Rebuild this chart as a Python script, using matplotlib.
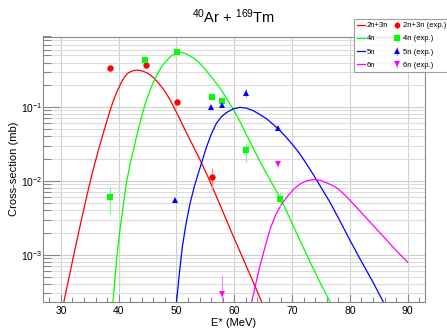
import numpy as np
import matplotlib
matplotlib.use('Agg')
import matplotlib.pyplot as plt
from matplotlib.ticker import MultipleLocator, LogLocator, NullFormatter

plt.rcParams['font.family'] = ['Liberation Sans', 'DejaVu Sans']
plt.rcParams['mathtext.fontset'] = 'custom'
plt.rcParams['mathtext.rm'] = 'Liberation Sans'
plt.rcParams['mathtext.default'] = 'regular'

# calculated curves, (E*, log10 sigma)
red_x = [30.5, 31.5, 32.2, 33.0, 34.0, 34.7, 35.5, 36.5, 37.5, 38.3, 39.0, 39.7, 40.5, 41.0, 41.6,
         42.5, 43.3, 44.2, 45.1, 46.0, 46.8, 47.6, 48.3, 49.0, 49.7, 50.5, 51.4, 52.7, 54.0,
         55.3, 56.6, 58.0, 59.4, 61.0, 62.5, 64.0, 64.8]
red_y = [-3.64, -3.27, -3.01, -2.72, -2.37, -2.13, -1.87, -1.58, -1.31, -1.10, -0.93, -0.79, -0.66, -0.595, -0.54,
         -0.508, -0.50, -0.515, -0.546, -0.60, -0.668, -0.745, -0.824, -0.92, -1.027, -1.15, -1.297, -1.50, -1.703,
         -1.92, -2.154, -2.41, -2.672, -2.96, -3.23, -3.50, -3.65]

grn_x = [39.0, 39.35, 39.7, 40.2, 40.8, 41.3, 42.0, 42.7, 43.3, 44.0, 44.5, 45.1, 45.7, 46.3, 46.8,
         47.5, 48.3, 49.0, 49.7, 50.3, 50.9, 51.7, 52.6, 53.5, 54.3, 56.0, 57.5, 58.4, 59.8, 61.0,
         62.1, 63.3, 64.4, 66.0, 67.6, 69.0, 70.5, 72.0, 73.5, 75.0, 76.6]
grn_y = [-3.64, -3.32, -3.01, -2.67, -2.33, -2.04, -1.76, -1.53, -1.33, -1.12, -0.98, -0.84, -0.72, -0.615, -0.535,
         -0.445, -0.37, -0.315, -0.28, -0.264, -0.262, -0.283, -0.32, -0.37, -0.43, -0.59, -0.74, -0.85, -1.027, -1.20,
         -1.375, -1.56, -1.73, -1.96, -2.18, -2.40, -2.66, -2.91, -3.16, -3.40, -3.64]

blu_x = [50.0, 50.5, 51.0, 51.6, 52.3, 53.1, 54.0, 55.2, 56.0, 56.9, 57.8, 58.7, 59.8, 61.0, 62.1,
         63.3, 64.4, 65.6, 66.8, 67.9, 69.0, 70.2, 71.4, 72.5, 73.8, 75.1, 76.5, 78.0, 80.0, 82.0,
         84.0, 85.8]
blu_y = [-3.64, -3.25, -2.90, -2.60, -2.32, -2.07, -1.84, -1.54, -1.37, -1.22, -1.13, -1.073, -1.025, -1.005, -1.015,
         -1.05, -1.10, -1.16, -1.24, -1.32, -1.41, -1.52, -1.64, -1.77, -1.93, -2.10, -2.28, -2.50, -2.80, -3.09,
         -3.37, -3.64]

mag_x = [63.0, 63.7, 64.4, 65.3, 66.2, 67.2, 68.3, 69.3, 70.3, 71.4, 72.5, 73.7, 74.8, 76.0, 77.0,
         78.0, 79.0, 80.0, 82.0, 84.0, 86.0, 88.0, 90.0]
mag_y = [-3.64, -3.40, -3.16, -2.90, -2.65, -2.45, -2.30, -2.20, -2.11, -2.04, -2.00, -1.982, -1.99, -2.027, -2.06,
         -2.11, -2.18, -2.26, -2.43, -2.60, -2.77, -2.94, -3.10]

# experimental points (mb)
e23_x = [38.5, 44.8, 50.1, 56.2]
e23_y = [0.333, 0.376, 0.118, 0.0112]
e23_lo = [0, 0, 0, 0.0034]
e23_hi = [0, 0, 0, 0.0036]

e4_x = [38.5, 44.6, 50.05, 56.2, 57.9, 62.1, 67.9]
e4_y = [0.00614, 0.431, 0.547, 0.135, 0.120, 0.0262, 0.00571]
e4_lo = [0.00256, 0, 0, 0, 0, 0.008, 0.0011]
e4_hi = [0.0025, 0, 0, 0, 0, 0.0068, 0.0013]

e5_x = [49.7, 55.9, 57.9, 62.1, 67.6]
e5_y = [0.00553, 0.0988, 0.105, 0.156, 0.0525]
e5_lo = [0, 0, 0, 0.018, 0]
e5_hi = [0, 0, 0, 0.022, 0]

e6_x = [67.6, 57.9]
e6_y = [0.0167, 0.000297]
e6_lo = [0.0012, 0.0002]
e6_hi = [0.0012, 0.00023]

fig = plt.figure(figsize=(4.47, 3.29), dpi=100)
ax = fig.add_axes([43/447, 27/329, 382/447, 265.5/329])

ax.set_yscale('log')
ax.set_xlim(26.9, 93.0)
ax.set_ylim(2.3e-4, 0.9)

ax.grid(True, which='major', color='#d0d0d0', lw=0.8)
ax.grid(True, which='minor', axis='y', color='#dcdcdc', lw=0.8)
ax.set_axisbelow(True)

lw = 0.9
l1, = ax.plot(red_x, 10**np.array(red_y), color='#ff0000', lw=lw, label='2n+3n')
l2, = ax.plot(grn_x, 10**np.array(grn_y), color='#00ff00', lw=lw, label='4n')
l3, = ax.plot(blu_x, 10**np.array(blu_y), color='#0000ff', lw=lw, label='5n')
l4, = ax.plot(mag_x, 10**np.array(mag_y), color='#ff00ff', lw=lw, label='6n')

ms = 4.6
p1 = ax.errorbar(e23_x, e23_y, yerr=[e23_lo, e23_hi], fmt='o', color='#ff0000', ecolor='#ff8080',
                 elinewidth=0.8, ms=ms, mew=0, label='2n+3n (exp.)')
p2 = ax.errorbar(e4_x, e4_y, yerr=[e4_lo, e4_hi], fmt='s', color='#00ff00', ecolor='#80ff80',
                 elinewidth=0.8, ms=ms, mew=0, label='4n (exp.)')
p3 = ax.errorbar(e5_x, e5_y, yerr=[e5_lo, e5_hi], fmt='^', color='#0000ff', ecolor='#8080ff',
                 elinewidth=0.8, ms=ms, mew=0, label='5n (exp.)')
p4 = ax.errorbar(e6_x, e6_y, yerr=[e6_lo, e6_hi], fmt='v', color='#ff00ff', ecolor='#ff80ff',
                 elinewidth=0.8, ms=ms, mew=0, label='6n (exp.)')

ax.xaxis.set_major_locator(MultipleLocator(10))
ax.xaxis.set_minor_locator(MultipleLocator(2))
ax.yaxis.set_major_locator(LogLocator(base=10))
ax.yaxis.set_minor_locator(LogLocator(base=10, subs=np.arange(2, 10)))
ax.yaxis.set_minor_formatter(NullFormatter())

for s in ax.spines.values():
    s.set_color('#888888')
    s.set_linewidth(0.8)
ax.tick_params(which='both', direction='in', colors='#888888', labelcolor='black', labelsize=7.5)
ax.tick_params(axis='y', which='major', length=12, width=0.8, pad=0.5)
ax.tick_params(axis='y', which='minor', length=6, width=0.8)
ax.tick_params(axis='x', which='major', length=6, width=0.8, pad=3)
ax.tick_params(axis='x', which='minor', length=3.5, width=0.8)

ax.set_xlabel('E* (MeV)', fontsize=8, labelpad=1)
ax.set_ylabel('Cross-section (mb)', fontsize=8, labelpad=1.5)
ax.set_title(r'$^{40}$Ar + $^{169}$Tm', fontsize=10.5, pad=10)

leg = fig.legend([l1, l2, l3, l4, p1, p2, p3, p4],
                 ['2n+3n', '4n', '5n', '6n', '2n+3n (exp.)', '4n (exp.)', '5n (exp.)', '6n (exp.)'],
                 ncol=2, loc='upper left', bbox_to_anchor=(354/447, 1 - 19/329),
                 fontsize=5.5, frameon=True, fancybox=False, edgecolor='#888888',
                 handlelength=1.0, handletextpad=0.3, columnspacing=0.6,
                 borderpad=0.4, labelspacing=0.75, borderaxespad=0, markerscale=0.9)
leg.get_frame().set_linewidth(0.8)

fig.savefig('out.png', dpi=100)
